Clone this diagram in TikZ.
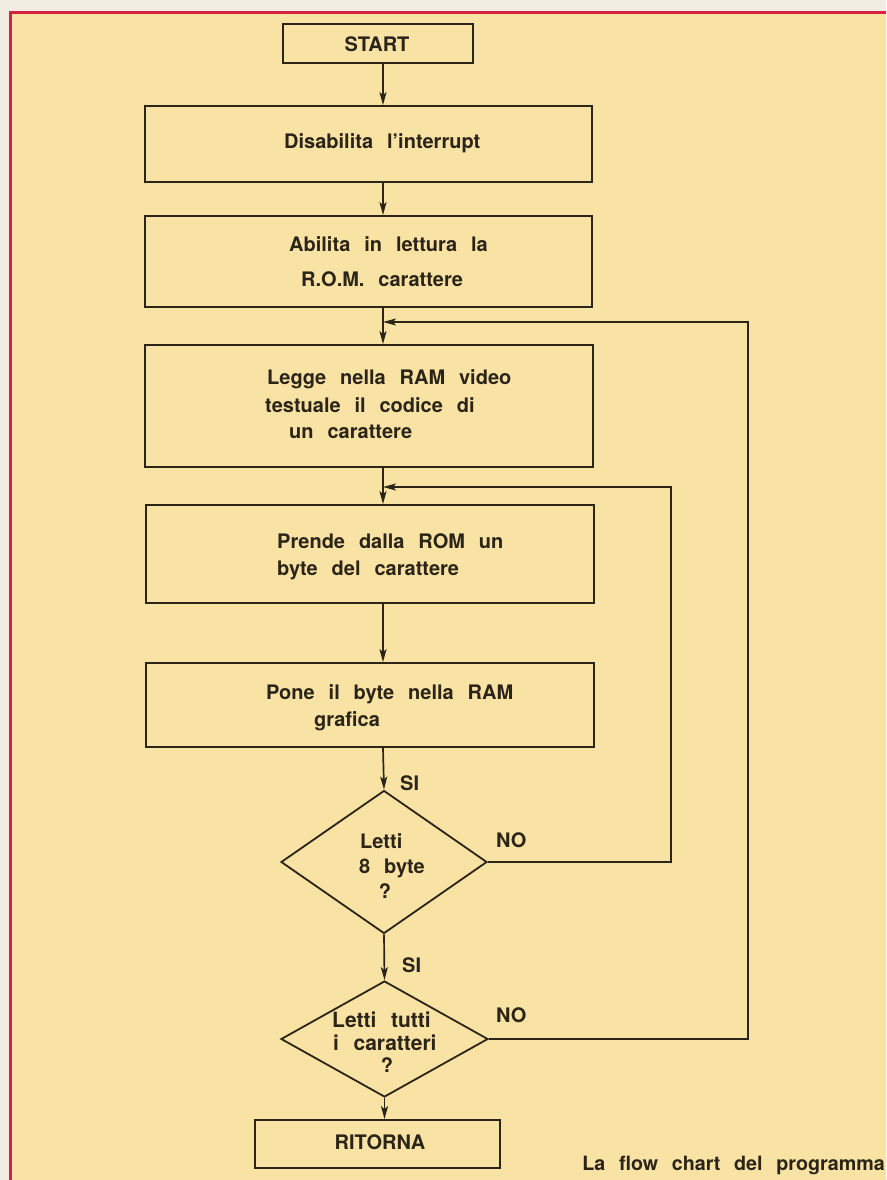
\documentclass[tikz,border=0pt]{standalone}
\usepackage{fontspec}
\setmainfont[WordSpace=2.5]{TeX Gyre Heros}
\usetikzlibrary{arrows.meta,shapes.geometric}
\definecolor{paper}{HTML}{F8E2A4}
\definecolor{outside}{HTML}{F1EDE3}
\definecolor{redline}{HTML}{D3213F}
\definecolor{ink}{HTML}{2B2418}
\tikzset{
  box/.style={draw=ink, line width=1.8pt, fill=none, inner sep=0pt},
  dia/.style={draw=ink, line width=1.8pt, diamond, inner sep=0pt},
  t/.style={anchor=base west, inner sep=0pt, text=ink, font=\fontsize{20}{24}\selectfont\bfseries},
  tc/.style={t, anchor=base},
  arr/.style={draw=ink, line width=1.7pt, -{Stealth[length=13pt,width=7pt,inset=3pt]}},
  back/.style={draw=ink, line width=1.4pt, -{Stealth[length=13pt,width=7pt,inset=3pt]}, line join=miter},
}
\begin{document}
\begin{tikzpicture}[x=1pt,y=-1pt]
\useasboundingbox (0,0) rectangle (886,1180);
\fill[outside] (0,0) rectangle (886,1180);
\fill[paper] (10,13) rectangle (886,1180);
\draw[redline, line width=3pt] (10,1180) -- (10,13) -- (886,13);

% boxes
\node[box, minimum width=190pt, minimum height=39pt] (start) at (378,43.5) {};
\node[box, minimum width=447pt, minimum height=76pt] (dis) at (368.5,144) {};
\node[box, minimum width=447pt, minimum height=91pt] (abi) at (368.5,261.5) {};
\node[box, minimum width=448pt, minimum height=122pt] (leg) at (369,406) {};
\node[box, minimum width=448pt, minimum height=98pt] (pre) at (370,554) {};
\node[box, minimum width=448pt, minimum height=84pt] (pon) at (370,705) {};
\node[dia, minimum width=206pt, minimum height=143pt] (d1) at (384,862) {};
\node[dia, minimum width=207pt, minimum height=116pt] (d2) at (384.5,1039) {};
\node[box, minimum width=245pt, minimum height=48pt] (rit) at (377.5,1144) {};

% texts
\node[tc] (tstart) at (377,52) {START};
\node[t] (tdis) at (284,149) {Disabilita l’interrupt};
\node[t] (tabi1) at (289,251) {Abilita in lettura la};
\node[t] (tabi2) at (301,286) {R.O.M. carattere};
\node[t] (tleg1) at (267,384) {Legge nella RAM video};
\node[t] (tleg2) at (265,412) {testuale il codice di};
\node[t] (tleg3) at (289,438) {un carattere};
\node[t] (tpre1) at (277,548) {Prende dalla ROM un};
\node[t] (tpre2) at (277,575) {byte del carattere};
\node[t] (tpon1) at (266,699) {Pone il byte nella RAM};
\node[t] (tpon2) at (314,726) {grafica};
\node[t] (td1a) at (360,848) {Letti};
\node[t] (td1b) at (359,873) {8 byte};
\node[tc] (td1c) at (385,898) {?};
\node[t, font=\fontsize{21}{24}\selectfont\bfseries] (td2a) at (332,1027) {Letti tutti};
\node[t, font=\fontsize{21}{24}\selectfont\bfseries] (td2b) at (333,1050) {i caratteri};
\node[tc] (td2c) at (387,1072) {?};
\node[tc] (trit) at (380,1149) {RITORNA};
\node[t] (si1) at (400,790) {SI};
\node[t] (si2) at (402,972) {SI};
\node[t] (no1) at (496,847) {NO};
\node[t] (no2) at (496,1022) {NO};
\node[anchor=base east, inner sep=0pt, text=ink, font=\fontsize{19.7}{22}\selectfont\bfseries] (cap) at (885,1170) {La flow chart del programma};

% axis and junctions
\coordinate (ax) at (383,0);
\coordinate (j2) at (383,322);
\coordinate (j1) at (383,487);
\coordinate (r2) at (748,322);
\coordinate (r1) at (671,487);

% main flow
\draw[arr] (start.south -| ax) -- (dis.north -| ax);
\draw[arr] (dis.south -| ax) -- (abi.north -| ax);
\draw[arr] (abi.south -| ax) -- (leg.north -| ax);
\draw[arr] (leg.south -| ax) -- (pre.north -| ax);
\draw[arr] (pre.south -| ax) -- (pon.north -| ax);
\draw[arr] (pon.south -| ax) -- (d1.north);
\draw[arr] (d1.south) -- (d2.north);
\draw[arr] (d2.south) -- (rit.north -| d2.south);

% loops
\draw[back] (d1.east) -| (r1) -- (j1);
\draw[back] (d2.east) -| (r2) -- (j2);
\end{tikzpicture}
\end{document}
